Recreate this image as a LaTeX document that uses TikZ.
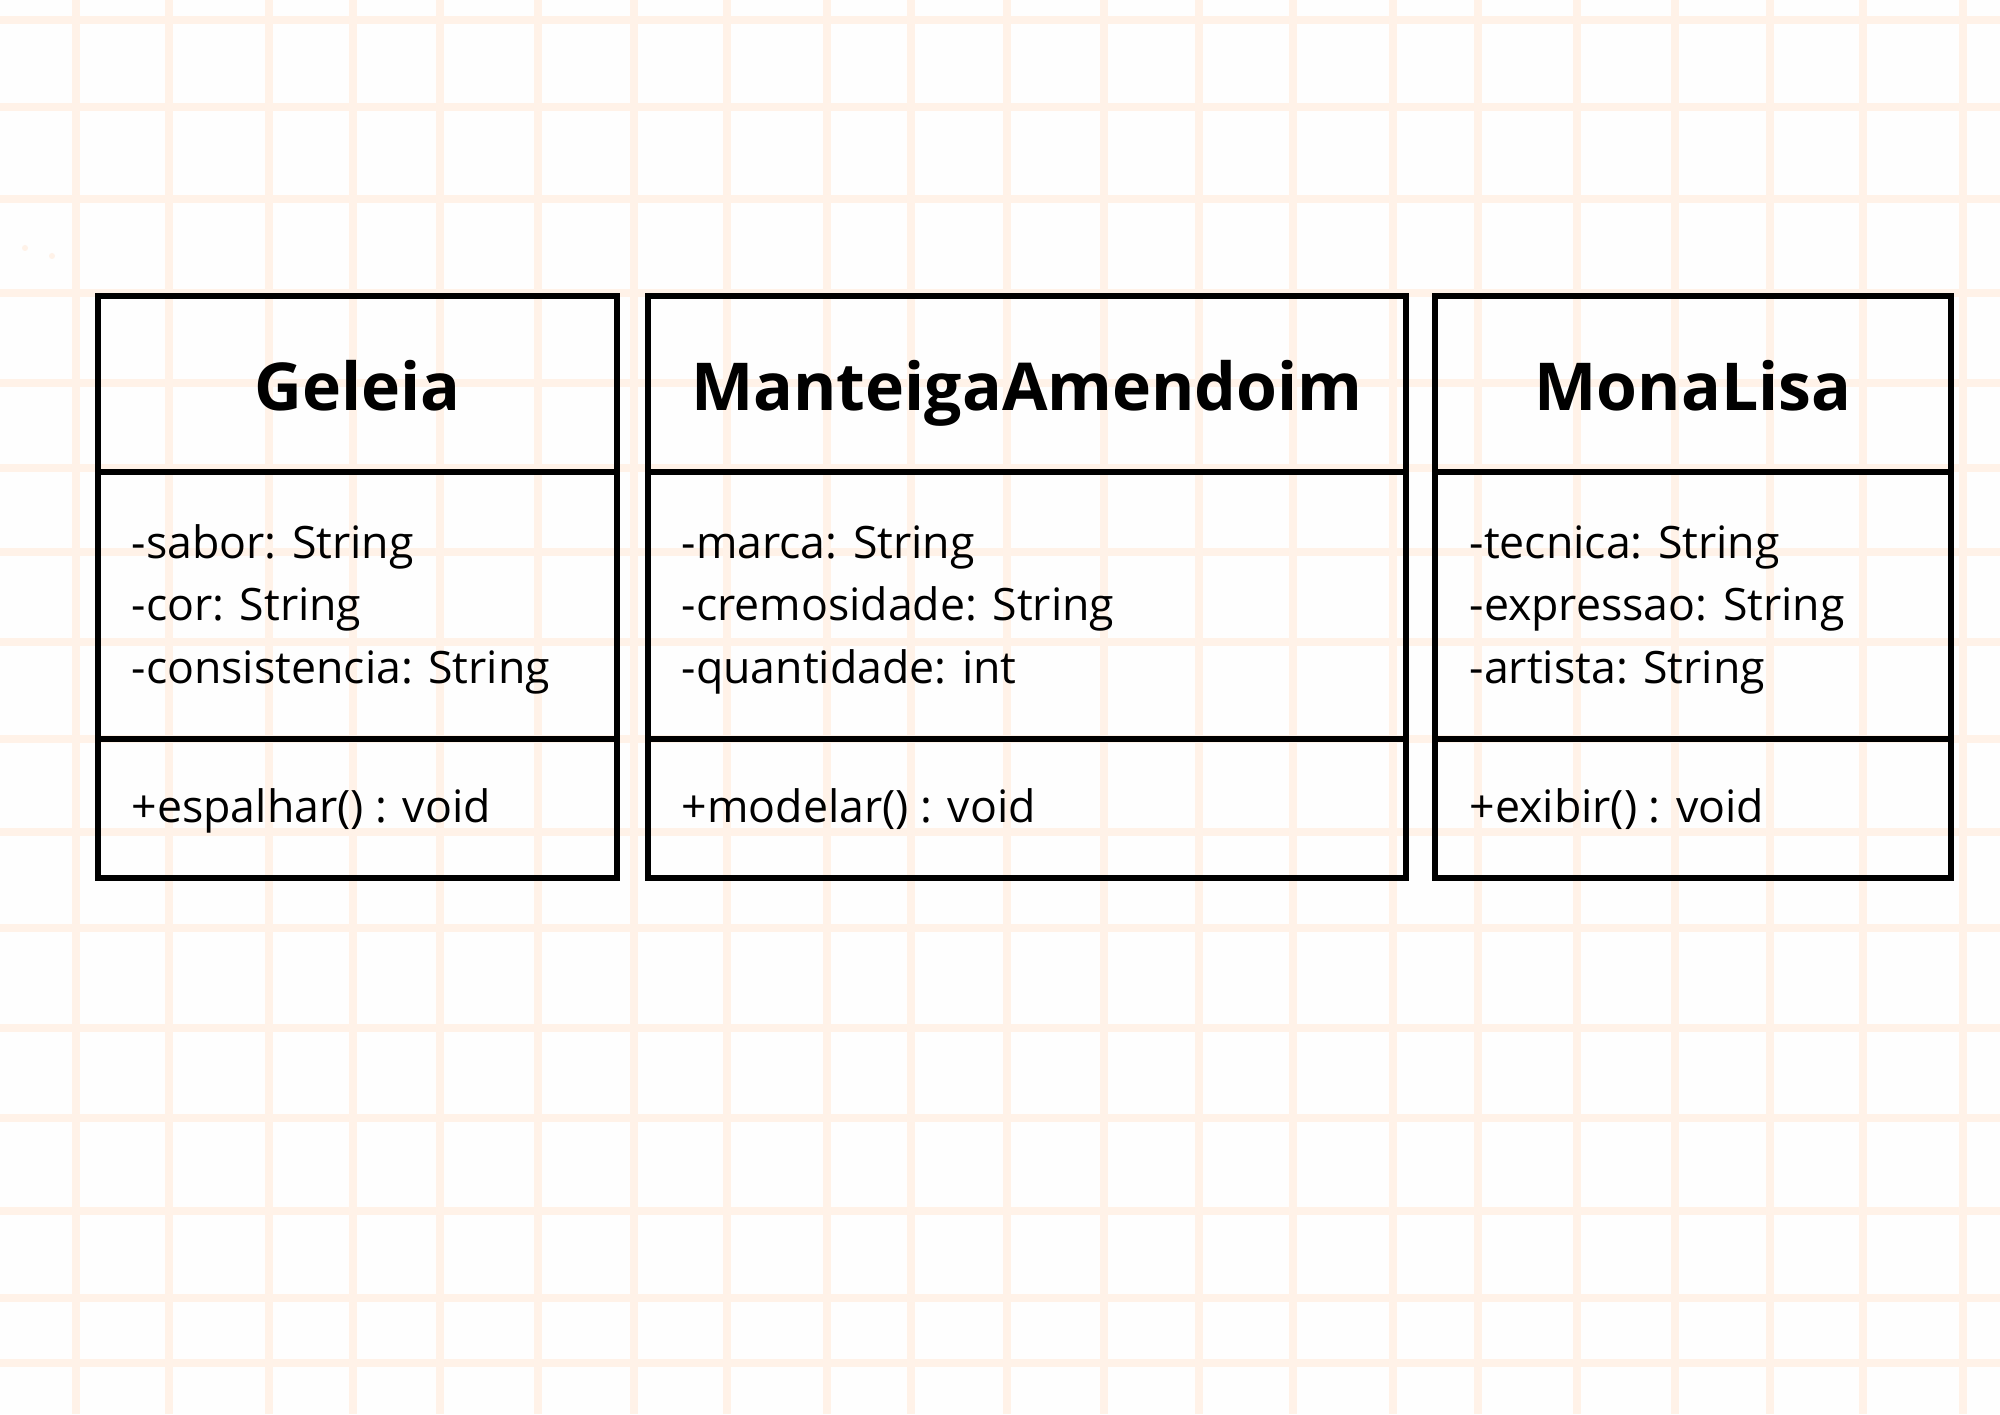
\documentclass[tikz,border=0pt]{standalone}
\usepackage{fontspec}
\setmainfont{Open Sans}
\usetikzlibrary{positioning}
\definecolor{gridpeach}{RGB}{255,242,232}
\definecolor{paper}{RGB}{254,254,254}
\newcommand{\titlefont}{\fontsize{18.8}{22}\selectfont\bfseries}
\newcommand{\itemfont}{\fontsize{12.7}{17.7}\selectfont}
\begin{document}
\begin{tikzpicture}[
    gridline/.style={gridpeach,line width=2.27pt},
    part/.style={draw=black,line width=1.56pt,rectangle,inner sep=0pt,outer sep=0pt},
    classtitle/.style={anchor=base,inner sep=0pt,font=\titlefont},
    member/.style={anchor=base west,inner sep=0pt,font=\itemfont}
  ]
  \useasboundingbox (0,0) rectangle (20,14.14);
  \fill[paper] (0,0) rectangle (20,14.14);
  % background grid
  \foreach \x in {0.76,1.69,2.69,3.53,4.40,5.38,6.34,7.27,8.27,9.11,10.07,
                  11.04,11.99,12.93,13.93,14.78,15.77,16.75,17.70,18.63,19.63}
    \draw[gridline] (\x,0) -- (\x,14.14);
  \foreach \y in {13.94,13.07,12.15,11.21,10.31,9.46,8.62,7.72,6.75,5.82,
                  4.86,3.86,2.96,2.03,1.16,0.51}
    \draw[gridline] (0,\y) -- (20,\y);
  \fill[gridpeach] (0.25,11.66) circle (0.03);
  \fill[gridpeach] (0.52,11.58) circle (0.03);

  % Geleia
  \node[part,minimum width=5.19cm,minimum height=1.76cm] (geleiaHead) at (3.575,10.30) {};
  \node[part,minimum width=5.19cm,minimum height=2.67cm,below=0pt of geleiaHead] (geleiaAttr) {};
  \node[part,minimum width=5.19cm,minimum height=1.39cm,below=0pt of geleiaAttr] (geleiaOps) {};
  \node[classtitle] (geleiaName) at (3.575,10.03) {Geleia};
  \node[member] (geleiaA1) at (1.31,8.55) {-sabor: String};
  \node[member] (geleiaA2) at (1.31,7.93) {-cor: String};
  \node[member] (geleiaA3) at (1.31,7.30) {-consistencia: String};
  \node[member] (geleiaM1) at (1.31,5.91) {+espalhar() : void};

  % ManteigaAmendoim
  \node[part,minimum width=7.58cm,minimum height=1.76cm] (manteigaHead) at (10.27,10.30) {};
  \node[part,minimum width=7.58cm,minimum height=2.67cm,below=0pt of manteigaHead] (manteigaAttr) {};
  \node[part,minimum width=7.58cm,minimum height=1.39cm,below=0pt of manteigaAttr] (manteigaOps) {};
  \node[classtitle] (manteigaName) at (10.27,10.03) {ManteigaAmendoim};
  \node[member] (manteigaA1) at (6.81,8.55) {-marca: String};
  \node[member] (manteigaA2) at (6.81,7.93) {-cremosidade: String};
  \node[member] (manteigaA3) at (6.81,7.30) {-quantidade: int};
  \node[member] (manteigaM1) at (6.81,5.91) {+modelar() : void};

  % MonaLisa
  \node[part,minimum width=5.16cm,minimum height=1.76cm] (monaHead) at (16.93,10.30) {};
  \node[part,minimum width=5.16cm,minimum height=2.67cm,below=0pt of monaHead] (monaAttr) {};
  \node[part,minimum width=5.16cm,minimum height=1.39cm,below=0pt of monaAttr] (monaOps) {};
  \node[classtitle] (monaName) at (16.93,10.03) {MonaLisa};
  \node[member] (monaA1) at (14.69,8.55) {-tecnica: String};
  \node[member] (monaA2) at (14.69,7.93) {-expressao: String};
  \node[member] (monaA3) at (14.69,7.30) {-artista: String};
  \node[member] (monaM1) at (14.69,5.91) {+exibir() : void};
\end{tikzpicture}
\end{document}
